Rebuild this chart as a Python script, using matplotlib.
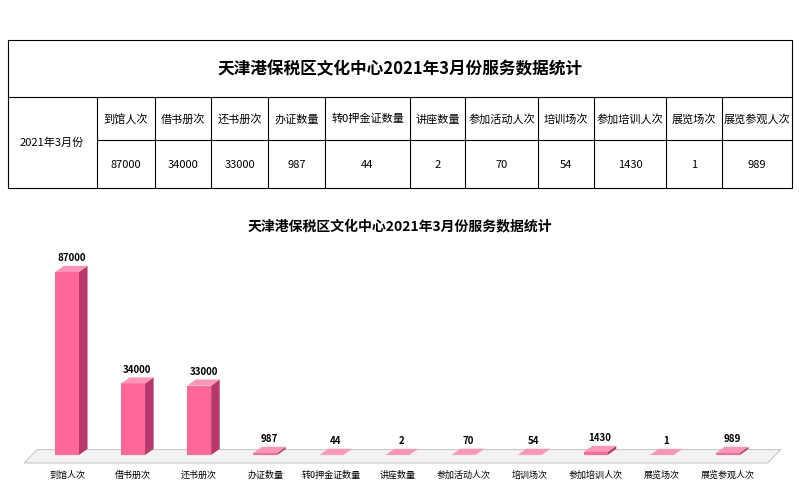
import matplotlib
matplotlib.use("Agg")
import matplotlib.pyplot as plt
from matplotlib.patches import Polygon, Rectangle

categories = ["到馆人次","借书册次","还书册次","办证数量","转0押金证数量","讲座数量","参加活动人次","培训场次","参加培训人次","展览场次","展览参观人次"]
values = [87000,34000,33000,987,44,2,70,54,1430,1,989]
period = "2021年3月份"
title = "天津港保税区文化中心2021年3月份服务数据统计"

plt.rcParams["font.family"] = "Noto Sans CJK SC"
W, H = 800, 503
fig = plt.figure(figsize=(W/100, H/100), dpi=100)

# ---- table in pixel coords ----
tab = fig.add_axes([0, 0, 1, 1])
tab.set_xlim(0, W); tab.set_ylim(H, 0); tab.axis("off")
cols = [97,155,211,268,325,410,465,538,594,666,722,792]
lw = 0.8
tab.add_patch(Rectangle((8,40),784,148,fill=False,lw=lw,color="black"))
tab.plot([8,792],[97,97],color="black",lw=lw)
tab.plot([97,792],[140,140],color="black",lw=lw)
for x in cols[:-1]:
    tab.plot([x,x],[97,188],color="black",lw=lw)
tab.text(400,69,title,ha="center",va="center",fontsize=12,fontweight="bold")
tab.text(52,143,period,ha="center",va="center",fontsize=8)
for i,(c,v) in enumerate(zip(categories,values)):
    cx=(cols[i]+cols[i+1])/2
    tab.text(cx,119,c,ha="center",va="center",fontsize=8)
    tab.text(cx,165,str(v),ha="center",va="center",fontsize=8)

# ---- chart ----
ax = fig.add_axes([34/W, 1-455/H, (761-34)/W, (455-272)/H])
ax.set_xlim(-0.5, len(categories)-0.5)
ax.set_ylim(0, 87000)
ax.axis("off")
fig.text(0.5, 1-226/H, title, ha="center", va="center", fontsize=10, fontweight="bold")
n=len(categories)
dx, dy = 0.13, 2900
# floor
ax.add_patch(Polygon([(-0.65,-3800),(n-0.5+0.1,-3800),(n-0.5+0.3,2600),(-0.45,2600)],
             closed=True,facecolor="#f2f2f2",edgecolor="#c8c8c8",lw=0.8,clip_on=False,zorder=1))
bw=0.36
xs=list(range(n))
ax.bar(xs,values,width=bw,color="#ff6699",zorder=3,clip_on=False)
for x,v in zip(xs,values):
    l,r=x-bw/2,x+bw/2
    ax.add_patch(Polygon([(r,0),(r+dx,dy),(r+dx,v+dy),(r,v)],closed=True,facecolor="#b8386b",edgecolor="none",zorder=2,clip_on=False))
    ax.add_patch(Polygon([(l,v),(r,v),(r+dx,v+dy),(l+dx,v+dy)],closed=True,facecolor="#ff94b8",edgecolor="none",zorder=4,clip_on=False))
    ax.text(x+dx/2,v+dy+1200,str(v),ha="center",va="bottom",fontsize=7,fontweight="bold",zorder=5)
    ax.text(x,-9800,categories[x],ha="center",va="center",fontsize=6.5)
fig.savefig("out.png",dpi=100)
